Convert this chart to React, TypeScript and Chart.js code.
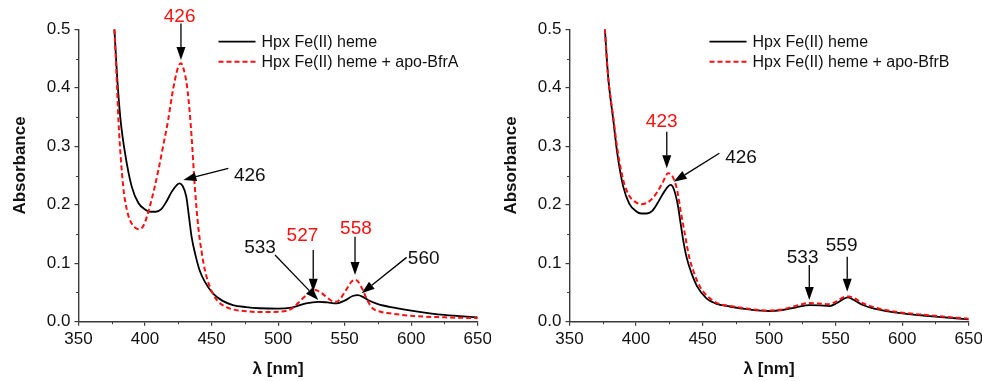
import React, { useEffect, useRef } from 'react';
import { Chart, registerables } from 'chart.js';

Chart.register(...registerables);

const FONT = '"Liberation Sans", Arial, Helvetica, sans-serif';
const AXIS = '#3a3a3a';
const RED = '#ff1010';

// ---------- data (wavelength nm / absorbance) ----------
const leftHemeNm = [377, 379, 381.6, 385, 390, 395, 400, 404, 408, 412, 416, 420, 424, 426, 428, 431, 433, 435, 438, 441, 445, 451, 458, 466, 476, 486, 500, 510, 521, 530, 537, 544, 550, 556, 560, 564, 567.5, 575, 587, 600, 625, 650];
const leftHemeAbs = [0.5, 0.42, 0.345, 0.288, 0.231, 0.203, 0.192, 0.188, 0.188, 0.192, 0.205, 0.222, 0.234, 0.2366, 0.233, 0.214, 0.18, 0.145, 0.113, 0.088, 0.068, 0.0485, 0.036, 0.0285, 0.025, 0.023, 0.0222, 0.024, 0.0314, 0.034, 0.033, 0.0314, 0.036, 0.044, 0.0456, 0.042, 0.037, 0.03, 0.024, 0.019, 0.0115, 0.0075];

const leftBfrANm = [377, 379, 380, 383.6, 386, 388.6, 392, 395.6, 399, 403.6, 407, 410, 414, 417.4, 420, 422.4, 425, 427, 429, 431.6, 433.5, 435, 437.4, 440, 442.5, 445, 449, 454, 460, 466, 476, 486, 500, 510, 518.6, 524, 528, 532, 536, 540, 543.7, 547, 551, 555, 557.5, 560, 563.7, 567, 571, 577, 584, 600, 625, 650];
const leftBfrAAbs = [0.5, 0.4, 0.345, 0.231, 0.195, 0.174, 0.162, 0.158, 0.165, 0.197, 0.228, 0.259, 0.305, 0.345, 0.383, 0.413, 0.436, 0.442, 0.432, 0.402, 0.36, 0.316, 0.231, 0.162, 0.12, 0.088, 0.058, 0.037, 0.026, 0.021, 0.018, 0.0165, 0.017, 0.022, 0.04, 0.05, 0.054, 0.05, 0.043, 0.036, 0.034, 0.04, 0.054, 0.068, 0.072, 0.069, 0.054, 0.037, 0.023, 0.017, 0.0143, 0.01, 0.0075, 0.006];

const rightHemeNm = [376.6, 379, 382.9, 385.9, 390.4, 394.9, 400, 404, 408, 412, 416, 420, 424, 426, 428.5, 431.6, 433.5, 435.4, 438, 441.7, 446, 452.9, 460, 470.4, 485, 500, 510, 520.4, 530.4, 538, 545.4, 551, 556, 559.2, 563, 570.4, 580, 595.5, 620.5, 650];
const rightHemeAbs = [0.5, 0.42, 0.345, 0.288, 0.231, 0.202, 0.189, 0.185, 0.185, 0.189, 0.202, 0.218, 0.231, 0.234, 0.226, 0.197, 0.168, 0.14, 0.11, 0.083, 0.06, 0.04, 0.031, 0.026, 0.021, 0.0183, 0.02, 0.0246, 0.0285, 0.028, 0.0268, 0.032, 0.039, 0.0417, 0.038, 0.0285, 0.022, 0.0154, 0.0097, 0.004];

const rightBfrBNm = [376.6, 379, 382.9, 386, 390.4, 395, 400, 404.2, 408, 412, 416, 420, 424.1, 426.5, 429, 430.9, 433.5, 436.6, 440, 442.9, 448, 455.4, 462, 470.4, 485, 500, 510, 520, 530, 538, 545, 551, 556, 560, 564, 570, 580, 595, 620, 650];
const rightBfrBAbs = [0.5, 0.42, 0.35, 0.295, 0.242, 0.215, 0.204, 0.201, 0.203, 0.21, 0.222, 0.238, 0.2537, 0.252, 0.24, 0.225, 0.19, 0.151, 0.11, 0.088, 0.06, 0.04, 0.031, 0.027, 0.022, 0.019, 0.021, 0.027, 0.032, 0.031, 0.03, 0.035, 0.042, 0.043, 0.04, 0.032, 0.024, 0.017, 0.011, 0.005];

const xTickValues = [350, 400, 450, 500, 550, 600, 650];
const yTickValues = [0, 0.1, 0.2, 0.3, 0.4, 0.5];

const hemeLabel = 'Hpx Fe(II) heme';
const leftMixLabel = 'Hpx Fe(II) heme + apo-BfrA';
const rightMixLabel = 'Hpx Fe(II) heme + apo-BfrB';
const xTitle = 'λ [nm]';
const yTitle = 'Absorbance';

// annotations: text position (tx,ty), arrow tail (fx,fy) and tip (hx,hy) in data units
type Ann = { text: string; red: boolean; tx: number; ty: number; fx: number; fy: number; hx: number; hy: number };
const leftAnnotations: Ann[] = [
  { text: '426', red: true, tx: 426.0, ty: 0.523, fx: 427.0, fy: 0.51, hx: 427.0, hy: 0.4475 },
  { text: '426', red: false, tx: 478.7, ty: 0.2517, fx: 462.6, fy: 0.2623, hx: 428.8, hy: 0.2423 },
  { text: '533', red: false, tx: 486.4, ty: 0.128, fx: 497.7, fy: 0.114, hx: 530.2, hy: 0.0371 },
  { text: '527', red: true, tx: 518.3, ty: 0.148, fx: 526.4, fy: 0.1226, hx: 526.4, hy: 0.0513 },
  { text: '558', red: true, tx: 558.5, ty: 0.16, fx: 557.8, fy: 0.1453, hx: 557.8, hy: 0.0799 },
  { text: '560', red: false, tx: 609.4, ty: 0.109, fx: 596.6, fy: 0.11, hx: 562.8, hy: 0.0486 },
];
const rightAnnotations: Ann[] = [
  { text: '423', red: true, tx: 419.3, ty: 0.344, fx: 423.1, fy: 0.325, hx: 423.1, hy: 0.2623 },
  { text: '426', red: false, tx: 478.9, ty: 0.282, fx: 462.6, fy: 0.288, hx: 428.3, hy: 0.2394 },
  { text: '533', red: false, tx: 525.2, ty: 0.111, fx: 530.2, fy: 0.097, hx: 530.2, hy: 0.0371 },
  { text: '559', red: false, tx: 554.5, ty: 0.131, fx: 558.7, fy: 0.111, hx: 558.7, hy: 0.0513 },
];

function toPoints(nm: number[], abs: number[]) {
  return nm.map((v, i) => ({ x: v, y: abs[i] }));
}

function drawArrow(ctx: CanvasRenderingContext2D, x1: number, y1: number, x2: number, y2: number) {
  const dx = x2 - x1;
  const dy = y2 - y1;
  const len = Math.sqrt(dx * dx + dy * dy);
  const ux = dx / len;
  const uy = dy / len;
  const headLen = 13;
  const headHalf = 4.5;
  const bx = x2 - ux * headLen;
  const by = y2 - uy * headLen;
  ctx.strokeStyle = '#000';
  ctx.lineWidth = 1.3;
  ctx.beginPath();
  ctx.moveTo(x1, y1);
  ctx.lineTo(bx, by);
  ctx.stroke();
  ctx.fillStyle = '#000';
  ctx.beginPath();
  ctx.moveTo(x2, y2);
  ctx.lineTo(bx - uy * headHalf, by + ux * headHalf);
  ctx.lineTo(bx + uy * headHalf, by - ux * headHalf);
  ctx.closePath();
  ctx.fill();
}

function makeDecor(mixLabel: string, annotations: Ann[]) {
  return {
    id: 'decor',
    afterDraw(chart: any) {
      const { ctx, chartArea } = chart;
      const xs = chart.scales.x;
      const ys = chart.scales.y;
      ctx.save();
      // minor ticks
      ctx.strokeStyle = AXIS;
      ctx.lineWidth = 1;
      for (let i = 0; i < xTickValues.length - 1; i++) {
        const px = Math.round(xs.getPixelForValue((xTickValues[i] + xTickValues[i + 1]) / 2)) + 0.5;
        ctx.beginPath();
        ctx.moveTo(px, chartArea.bottom);
        ctx.lineTo(px, chartArea.bottom + 2.5);
        ctx.stroke();
      }
      for (let i = 0; i < yTickValues.length - 1; i++) {
        const py = Math.round(ys.getPixelForValue((yTickValues[i] + yTickValues[i + 1]) / 2)) + 0.5;
        ctx.beginPath();
        ctx.moveTo(chartArea.left, py);
        ctx.lineTo(chartArea.left - 2.5, py);
        ctx.stroke();
      }
      // axis titles
      ctx.fillStyle = '#111';
      ctx.font = `bold 17px ${FONT}`;
      ctx.textAlign = 'center';
      ctx.textBaseline = 'middle';
      ctx.fillText(xTitle, (chartArea.left + chartArea.right) / 2, 369);
      ctx.save();
      ctx.translate(20, 165.5);
      ctx.rotate(-Math.PI / 2);
      ctx.fillText(yTitle, 0, 0);
      ctx.restore();
      // legend
      const lx = chartArea.left + 140;
      const ly1 = chartArea.top + 12.4;
      const ly2 = chartArea.top + 32.4;
      ctx.lineWidth = 1.8;
      ctx.strokeStyle = '#000';
      ctx.setLineDash([]);
      ctx.beginPath();
      ctx.moveTo(lx, ly1);
      ctx.lineTo(lx + 37, ly1);
      ctx.stroke();
      ctx.strokeStyle = RED;
      ctx.lineWidth = 2;
      ctx.setLineDash([5, 3]);
      ctx.beginPath();
      ctx.moveTo(lx, ly2);
      ctx.lineTo(lx + 37, ly2);
      ctx.stroke();
      ctx.setLineDash([]);
      ctx.font = `16px ${FONT}`;
      ctx.textAlign = 'left';
      ctx.fillStyle = '#111';
      ctx.fillText(hemeLabel, lx + 43, ly1 + 0.5);
      ctx.fillText(mixLabel, lx + 43, ly2 + 0.5);
      // annotations
      for (const a of annotations) {
        drawArrow(ctx, xs.getPixelForValue(a.fx), ys.getPixelForValue(a.fy), xs.getPixelForValue(a.hx), ys.getPixelForValue(a.hy));
        ctx.font = `19px ${FONT}`;
        ctx.textAlign = 'center';
        ctx.textBaseline = 'middle';
        ctx.fillStyle = a.red ? RED : '#111';
        ctx.fillText(a.text, xs.getPixelForValue(a.tx), ys.getPixelForValue(a.ty) + 1);
      }
      ctx.restore();
    },
  };
}

function Panel({ hemeNm, hemeAbs, mixNm, mixAbs, mixLabel, annotations, left }: any) {
  const ref = useRef<HTMLCanvasElement | null>(null);
  useEffect(() => {
    if (!ref.current) return;
    const chart = new Chart(ref.current, {
      type: 'line',
      data: {
        datasets: [
          {
            label: mixLabel,
            data: toPoints(mixNm, mixAbs),
            borderColor: RED,
            borderWidth: 2,
            borderDash: [5, 3],
            pointRadius: 0,
            fill: false,
            cubicInterpolationMode: 'monotone',
            order: 0,
          },
          {
            label: hemeLabel,
            data: toPoints(hemeNm, hemeAbs),
            borderColor: '#000',
            borderWidth: 1.8,
            pointRadius: 0,
            fill: false,
            cubicInterpolationMode: 'monotone',
            order: 1,
          },
        ],
      },
      options: {
        responsive: false,
        animation: false,
        events: [],
        layout: { padding: { top: 29.3, right: 13.3, left: 0, bottom: 0 } },
        plugins: { legend: { display: false }, tooltip: { enabled: false } },
        scales: {
          x: {
            type: 'linear',
            min: 350,
            max: 650,
            afterBuildTicks: (s: any) => {
              s.ticks = xTickValues.map((v) => ({ value: v }));
            },
            ticks: {
              font: { family: FONT, size: 17 },
              color: '#111',
              padding: 3,
              maxRotation: 0,
              autoSkip: false,
              callback: (v: any) => String(v),
            },
            grid: { drawOnChartArea: false, drawTicks: true, tickLength: 4, color: AXIS, lineWidth: 1.2 },
            border: { display: true, color: AXIS, width: 1.4 },
            afterFit: (s: any) => {
              s.height = 59.3;
              s.paddingLeft = 0;
              s.paddingRight = 0;
            },
          },
          y: {
            type: 'linear',
            min: 0,
            max: 0.5,
            afterBuildTicks: (s: any) => {
              s.ticks = yTickValues.map((v) => ({ value: v }));
            },
            ticks: {
              font: { family: FONT, size: 17 },
              color: '#111',
              padding: 4,
              callback: (v: any) => Number(v).toFixed(1),
            },
            grid: { drawOnChartArea: false, drawTicks: true, tickLength: 4, color: AXIS, lineWidth: 1.2 },
            border: { display: true, color: AXIS, width: 1.4 },
            afterFit: (s: any) => {
              s.width = 78.5;
              s.paddingTop = 0;
              s.paddingBottom = 0;
            },
          },
        },
      },
      plugins: [makeDecor(mixLabel, annotations)],
    } as any);
    return () => chart.destroy();
  }, []);
  return (
    <div style={{ position: 'absolute', top: 0, left: left, width: 491, height: 381 }}>
      <canvas ref={ref} width={491} height={381} style={{ display: 'block', width: 491, height: 381 }} />
    </div>
  );
}

export default function App() {
  return (
    <div style={{ position: 'absolute', left: 0, top: 0, width: 982, height: 381, background: '#fff', overflow: 'hidden' }}>
      <Panel hemeNm={leftHemeNm} hemeAbs={leftHemeAbs} mixNm={leftBfrANm} mixAbs={leftBfrAAbs} mixLabel={leftMixLabel} annotations={leftAnnotations} left={0} />
      <Panel hemeNm={rightHemeNm} hemeAbs={rightHemeAbs} mixNm={rightBfrBNm} mixAbs={rightBfrBAbs} mixLabel={rightMixLabel} annotations={rightAnnotations} left={491} />
    </div>
  );
}
